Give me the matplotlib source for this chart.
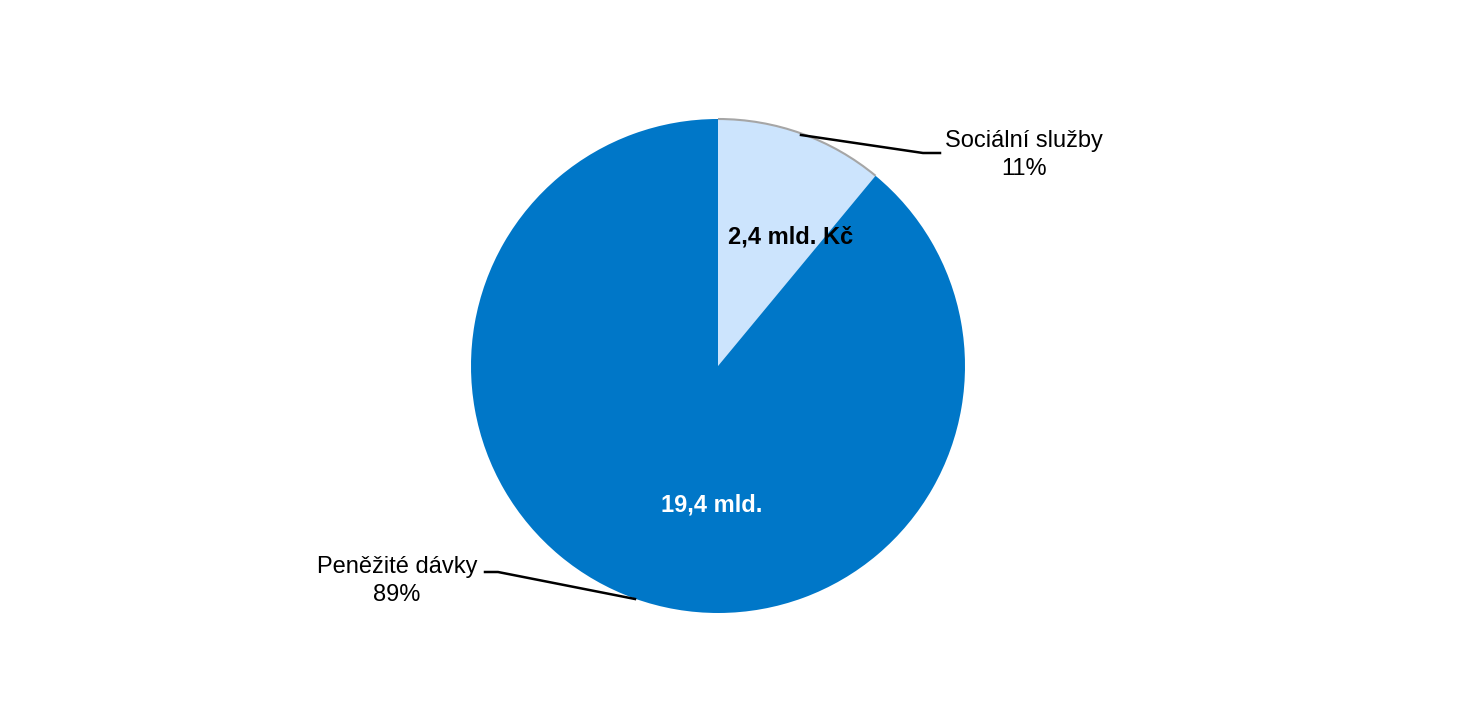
import matplotlib.pyplot as plt
from matplotlib.patches import Arc

plt.rcParams['font.family'] = ['Liberation Sans', 'DejaVu Sans']

categories = ['Sociální služby', 'Peněžité dávky']
values = [2.4, 19.4]
percent_labels = ['11%', '89%']
value_labels = ['2,4 mld. Kč', '19,4 mld.']
colors = ['#CCE4FD', '#0077C8']

W, H = 1478, 709
fig = plt.figure(figsize=(W / 100, H / 100), dpi=100)
ax = fig.add_axes([0, 0, 1, 1])

cx, cy, r = 718, H - 366, 247
wedges, _ = ax.pie(values, colors=colors, startangle=90, counterclock=False,
                   center=(cx, cy), radius=r, wedgeprops=dict(linewidth=0),
                   frame=True)
ax.set_xlim(0, W)
ax.set_ylim(0, H)
ax.set_aspect('equal')
ax.axis('off')

# thin grey outline on the light slice's arc
w0 = wedges[0]
ax.add_patch(Arc((cx, cy), 2 * r, 2 * r, theta1=w0.theta1, theta2=w0.theta2,
                 color='#A6A6A6', lw=1.5))

# value labels inside slices
ax.text(791, H - 237, value_labels[0], ha='center', va='center',
        fontsize=17, fontweight='bold', color='black')
ax.text(712, H - 505, value_labels[1], ha='center', va='center',
        fontsize=17, fontweight='bold', color='white')

# category labels with leader lines
ax.text(1024, H - 155, categories[0] + '\n' + percent_labels[0], ha='center',
        va='center', fontsize=17, color='black', linespacing=1.3)
ax.plot([801, 923, 940], [H - 135, H - 153, H - 153], color='black', lw=1.8)

ax.text(397, H - 581, categories[1] + '\n' + percent_labels[1], ha='center',
        va='center', fontsize=17, color='black', linespacing=1.3)
ax.plot([485, 498, 635], [H - 572, H - 572, H - 599], color='black', lw=1.8)

plt.savefig('out.png', dpi=100)
